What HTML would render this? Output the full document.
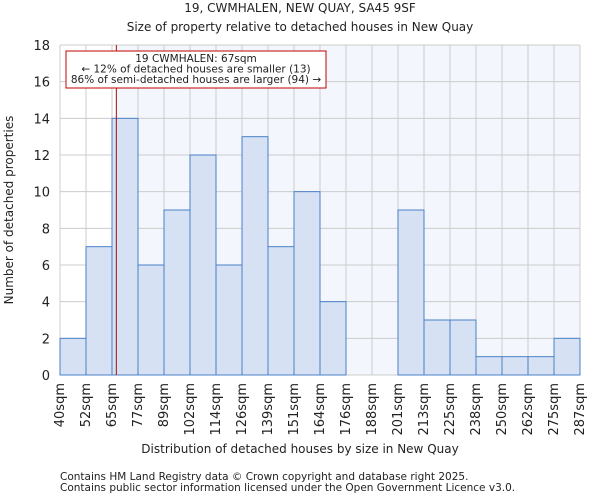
<!DOCTYPE html>
<html><head><meta charset="utf-8"><style>
body{margin:0;background:#fff;font-family:"DejaVu Sans","Liberation Sans",sans-serif;}
svg text{font-family:"DejaVu Sans","Liberation Sans",sans-serif;fill:#222;}
</style></head><body>
<svg id="c" width="600" height="500" xmlns="http://www.w3.org/2000/svg">
<text x="300" y="12" text-anchor="middle" font-size="12">19, CWMHALEN, NEW QUAY, SA45 9SF</text>
<text x="300" y="31" text-anchor="middle" font-size="12">Size of property relative to detached houses in New Quay</text>
<g id="plot"></g>
<text x="300" y="453" text-anchor="middle" font-size="12">Distribution of detached houses by size in New Quay</text>
<text x="13" y="210" text-anchor="middle" font-size="12" transform="rotate(-90 13 210)">Number of detached properties</text>
<text x="60" y="480" font-size="10.5">Contains HM Land Registry data © Crown copyright and database right 2025.</text>
<text x="60" y="491" font-size="10.5">Contains public sector information licensed under the Open Government Licence v3.0.</text>
</svg>
<script>
const binLabels=["40sqm","52sqm","65sqm","77sqm","89sqm","102sqm","114sqm","126sqm","139sqm","151sqm","164sqm","176sqm","188sqm","201sqm","213sqm","225sqm","238sqm","250sqm","262sqm","275sqm","287sqm"];
const binEdges=[40,52,65,77,89,102,114,126,139,151,164,176,188,201,213,225,238,250,262,275,287];
const counts=[2,7,14,6,9,12,6,13,7,10,4,0,0,9,3,3,1,1,1,2];
const yTicks=[0,2,4,6,8,10,12,14,16,18];
const propertySize=67;
const NS="http://www.w3.org/2000/svg";
const L=60,R=580,T=45,B=375,yMax=18;
const n=counts.length;
const xi=i=>L+(R-L)*i/n;
const xv=v=>{let i=0;while(i<binEdges.length-2&&v>binEdges[i+1])i++;return xi(i+(v-binEdges[i])/(binEdges[i+1]-binEdges[i]));};
const y=v=>B-(B-T)*v/yMax;
const g=document.getElementById('plot');
function mk(t,a){const e=document.createElementNS(NS,t);for(const k in a)e.setAttribute(k,a[k]);g.appendChild(e);return e;}
const px=xv(propertySize);
let e=mk('rect',{x:L,y:T,width:px-L,height:B-T,fill:'#ffffff'});


e=mk('rect',{x:px,y:T,width:R-px,height:B-T,fill:'#f3f6fc'});


yTicks.forEach(t=>{
 e=mk('line',{x1:L,x2:R,y1:y(t),y2:y(t),stroke:'#cccccc','stroke-width':1});
 
 
 e=mk('text',{x:L-10,y:y(t)+5,'text-anchor':'end','font-size':13});
 e.textContent=t;
 
 
});
for(let i=0;i<=n;i++){
 e=mk('line',{x1:xi(i),x2:xi(i),y1:T,y2:B,stroke:'#cccccc','stroke-width':1});
 
 
}
counts.forEach((c,i)=>{
 if(c<=0)return;
 e=mk('rect',{x:xi(i),y:y(c),width:xi(i+1)-xi(i),height:B-y(c),fill:'#d6e2f3',stroke:'#4a80c8','stroke-width':1});
 
 
});
binLabels.forEach((l,i)=>{
 const xx=xi(i)+4;
 e=mk('text',{x:xx,y:B+8,'text-anchor':'end','font-size':13,transform:`rotate(-90 ${xx} ${B+8})`});
 e.textContent=l;
 
 
});
e=mk('line',{x1:px,x2:px,y1:T,y2:B,stroke:'#a01010','stroke-width':1});


e=mk('rect',{x:66,y:51,width:260,height:37,fill:'#fff',stroke:'#c00000','stroke-width':1});


["19 CWMHALEN: 67sqm","← 12% of detached houses are smaller (13)","86% of semi-detached houses are larger (94) →"].forEach((s,k)=>{
 e=mk('text',{x:196,y:62+k*10.5,'text-anchor':'middle','font-size':10.5});
 e.textContent=s;
 
 
});
</script>
</body></html>
